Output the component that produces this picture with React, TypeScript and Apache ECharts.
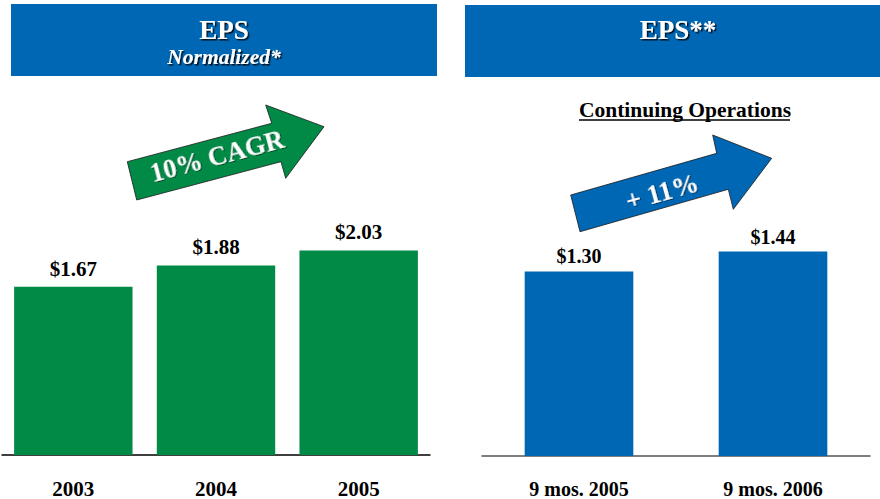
import React, { useEffect, useRef } from "react";
import * as echarts from "echarts";

const leftCategories = ["2003", "2004", "2005"];
const leftValues = [1.67, 1.88, 2.03];
const rightCategories = ["9 mos. 2005", "9 mos. 2006"];
const rightValues = [1.3, 1.44];

const GREEN = "#008A45";
const BLUE = "#0067B4";
const SERIF = "'Liberation Serif', 'Times New Roman', serif";

export default function App() {
  const ref = useRef<HTMLDivElement>(null);
  useEffect(() => {
    if (!ref.current) return;
    const chart = echarts.init(ref.current, null, { renderer: "svg" });
    const labelStyle = {
      show: true,
      position: "top",
      distance: 7.5,
      fontFamily: SERIF,
      fontWeight: "bold",
      fontSize: 21,
      color: "#000",
      formatter: (p: any) => "$" + Number(p.value).toFixed(2),
    };
    const shadow = {
      textShadowColor: "rgba(0,0,0,0.85)",
      textShadowOffsetX: 1.5,
      textShadowOffsetY: 1.5,
      textShadowBlur: 1,
    };
    const txt = (
      text: string,
      x: number,
      y: number,
      size: number,
      extra: any = {},
      rotation = 0
    ) => ({
      type: "text",
      x,
      y,
      rotation,
      style: {
        text,
        fill: "#fff",
        fontFamily: SERIF,
        fontWeight: "bold",
        fontSize: size,
        align: "center",
        verticalAlign: "middle",
        ...extra,
      },
    });
    const arrowShadow = {
      textShadowColor: "rgba(0,0,0,0.6)",
      textShadowOffsetX: 1,
      textShadowOffsetY: 1,
      textShadowBlur: 1,
    };
    chart.setOption({
      animation: false,
      backgroundColor: "#fff",
      grid: [
        { left: 2, right: 450, top: 203, bottom: 44 },
        { left: 482, right: 10, top: 172, bottom: 43 },
      ],
      xAxis: [
        {
          type: "category",
          gridIndex: 0,
          data: leftCategories,
          axisLine: { lineStyle: { color: "#000", width: 1.5 } },
          axisTick: { show: false },
          axisLabel: { margin: 23, fontFamily: SERIF, fontWeight: "bold", fontSize: 21, color: "#000" },
        },
        {
          type: "category",
          gridIndex: 1,
          data: rightCategories,
          axisLine: { lineStyle: { color: "#555", width: 1.5 } },
          axisTick: { show: false },
          axisLabel: { margin: 23, fontFamily: SERIF, fontWeight: "bold", fontSize: 20, color: "#000" },
        },
      ],
      yAxis: [
        { type: "value", gridIndex: 0, min: 0, max: 2.5, show: false, splitLine: { show: false } },
        { type: "value", gridIndex: 1, min: 0, max: 2, show: false, splitLine: { show: false } },
      ],
      series: [
        {
          type: "bar",
          xAxisIndex: 0,
          yAxisIndex: 0,
          data: leftValues,
          barCategoryGap: "17%",
          itemStyle: { color: GREEN },
          label: labelStyle,
        },
        {
          type: "bar",
          xAxisIndex: 1,
          yAxisIndex: 1,
          data: rightValues,
          barCategoryGap: "44%",
          itemStyle: { color: BLUE },
          label: { ...labelStyle, fontSize: 20, distance: 5 },
        },
      ],
      graphic: [
        { type: "rect", shape: { x: 11, y: 4, width: 426, height: 72 }, style: { fill: BLUE } },
        { type: "rect", shape: { x: 465, y: 5, width: 415, height: 72 }, style: { fill: BLUE } },
        txt("EPS", 224, 30, 27, shadow),
        txt("Normalized*", 224, 57, 21.5, { ...shadow, fontStyle: "italic" }),
        txt("EPS**", 678, 30, 27, shadow),
        txt("Continuing Operations", 685, 110, 21.5, { fill: "#000" }),
        { type: "line", shape: { x1: 579, y1: 120, x2: 790, y2: 120 }, style: { stroke: "#000", lineWidth: 1.6 } },
        {
          type: "polygon",
          shape: {
            points: [
              [127.3, 161.7],
              [271.7, 123.3],
              [265.7, 105],
              [324, 126.7],
              [285.7, 178.3],
              [281, 161.7],
              [136.7, 200],
            ],
          },
          style: { fill: GREEN, stroke: "#1a1a1a", lineWidth: 0.8 },
        },
        txt("10% CAGR", 217, 156, 26.5, arrowShadow, 0.26),
        {
          type: "polygon",
          shape: {
            points: [
              [570.7, 195],
              [716.7, 153.3],
              [712.7, 135],
              [771.7, 158.3],
              [733.3, 209.3],
              [728.3, 189.3],
              [580, 231.7],
            ],
          },
          style: { fill: BLUE, stroke: "#1a1a1a", lineWidth: 0.8 },
        },
        txt("+ 11%", 662, 192, 27, arrowShadow, 0.27),
      ],
    });
    return () => chart.dispose();
  }, []);
  return (
    <div
      ref={ref}
      style={{ position: "fixed", left: 0, top: 0, width: 880, height: 499 }}
    />
  );
}
